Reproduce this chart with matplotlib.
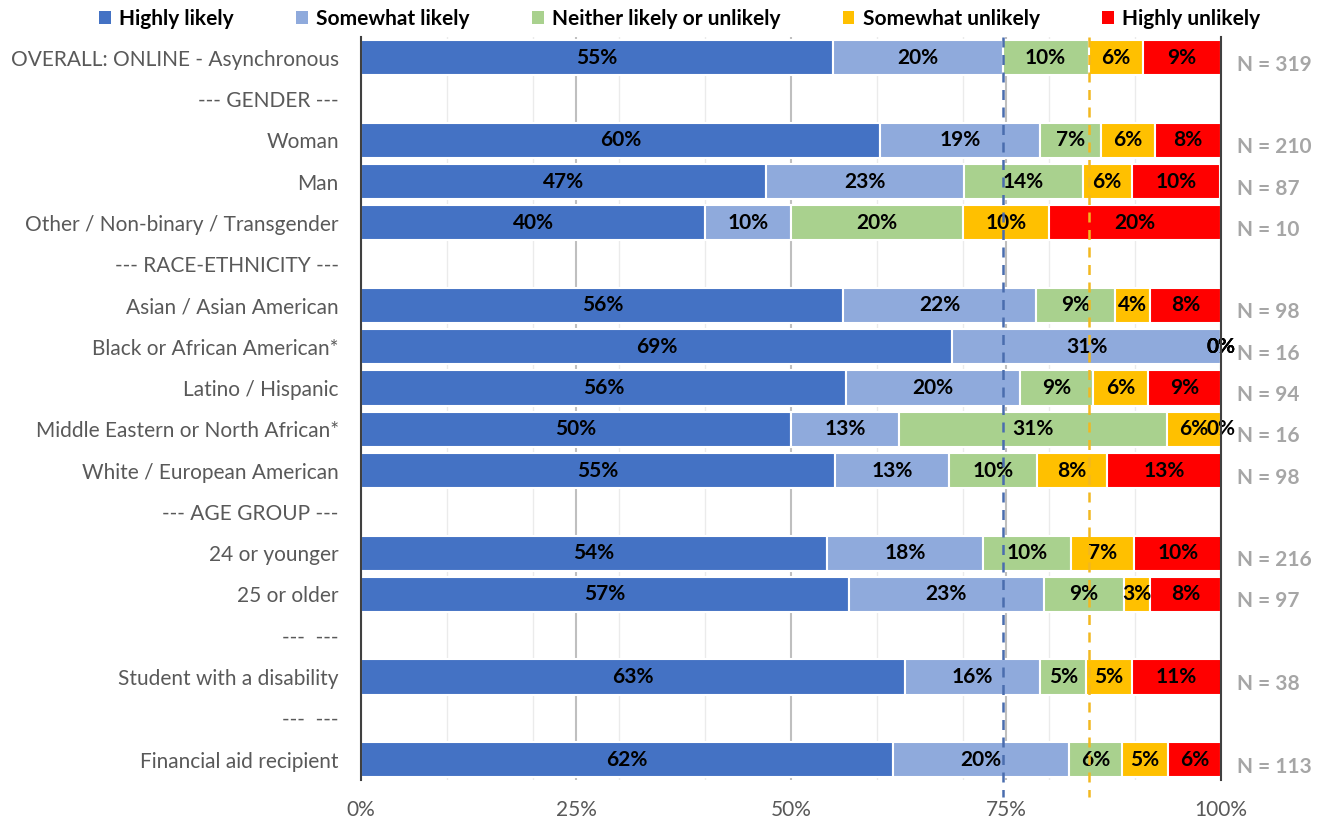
import numpy as np
import matplotlib.pyplot as plt
from matplotlib.patches import Patch

plt.rcParams['font.family'] = ['Lato', 'DejaVu Sans']

# rows top to bottom; section header rows have no data (None)
rows = ['OVERALL: ONLINE - Asynchronous', '--- GENDER ---', 'Woman', 'Man',
        'Other / Non-binary / Transgender', '--- RACE-ETHNICITY ---',
        'Asian / Asian American', 'Black or African American*', 'Latino / Hispanic',
        'Middle Eastern or North African*', 'White / European American',
        '--- AGE GROUP ---', '24 or younger', '25 or older', '---  ---',
        'Student with a disability', '---  ---', 'Financial aid recipient']

categories = ['Highly likely', 'Somewhat likely', 'Neither likely or unlikely',
              'Somewhat unlikely', 'Highly unlikely']
colors = ['#4472C4', '#8FAADC', '#A9D18E', '#FFC000', '#FF0000']

# percent per category, one list per row (None = header row)
values = [
    [54.9, 19.7, 10.0, 6.3, 9.1],
    None,
    [60.4, 18.6, 7.1, 6.2, 7.7],
    [47.1, 23.0, 13.8, 5.7, 10.3],
    [40.0, 10.0, 20.0, 10.0, 20.0],
    None,
    [56.1, 22.4, 9.2, 4.1, 8.2],
    [68.75, 31.25, 0.0, 0.0, 0.0],
    [56.4, 20.2, 8.5, 6.4, 8.5],
    [50.0, 12.5, 31.25, 6.25, 0.0],
    [55.1, 13.3, 10.2, 8.2, 13.3],
    None,
    [54.2, 18.1, 10.2, 7.4, 10.2],
    [56.7, 22.7, 9.3, 3.1, 8.2],
    None,
    [63.2, 15.8, 5.3, 5.3, 10.5],
    None,
    [61.9, 20.4, 6.2, 5.3, 6.2],
]
n_labels = ['N = 319', None, 'N = 210', 'N = 87', 'N = 10', None,
            'N = 98', 'N = 16', 'N = 94', 'N = 16', 'N = 98', None,
            'N = 216', 'N = 97', None, 'N = 38', None, 'N = 113']

fig = plt.figure(figsize=(13.25, 8.23), dpi=100)
ax = fig.add_axes([0.2725, 0.052, 0.649, 0.903])

y = np.arange(len(rows))
for i, vals in enumerate(values):
    if vals is None:
        continue
    left = 0
    for j, v in enumerate(vals):
        ax.barh(i, v, left=left, height=0.85, color=colors[j],
                edgecolor='white', linewidth=1.5, zorder=3)
        ax.text(left + v / 2, i, f'{int(np.floor(v + 0.5))}%', ha='center',
                va='center', fontsize=15, fontweight='bold', color='black', zorder=5)
        left += v
    ax.text(101.9, i + 0.17, n_labels[i], ha='left', va='center', fontsize=15,
            fontweight='bold', color='#A6A6A6', clip_on=False)

# reference lines from the overall row
ov = values[0]
for xv, c in [(ov[0] + ov[1], '#4A6DAE'), (ov[0] + ov[1] + ov[2], '#F2B820')]:
    ax.plot([xv, xv], [-0.5, 17.9], color=c, lw=1.8, ls=(0, (4, 3)),
            zorder=6, clip_on=False)

ax.set_xlim(0, 100)
ax.set_ylim(len(rows) - 0.5, -0.5)
ax.set_yticks(y)
ax.set_yticklabels(rows, fontsize=15, color='#595959')
ax.set_xticks([0, 25, 50, 75, 100])
ax.set_xticklabels(['0%', '25%', '50%', '75%', '100%'], fontsize=15, color='#595959')
ax.set_xticks(np.arange(10, 100, 10), minor=True)
ax.tick_params(axis='both', which='both', length=0)
ax.tick_params(axis='x', pad=14)
ax.tick_params(axis='y', pad=16)
ax.grid(axis='x', which='minor', color='#EBEBEB', lw=1, zorder=0)
ax.grid(axis='x', which='major', color='#BFBFBF', lw=1.5, zorder=1)
for s in ['top', 'bottom']:
    ax.spines[s].set_visible(False)
for s in ['left', 'right']:
    ax.spines[s].set_color('#404040')
    ax.spines[s].set_linewidth(1.5)
    ax.spines[s].set_zorder(7)

handles = [Patch(facecolor=c, label=l) for c, l in zip(colors, categories)]
fig.legend(handles=handles, loc='upper center', bbox_to_anchor=(0.513, 1.012),
           ncol=5, frameon=False, handlelength=0.55, handleheight=0.55,
           handletextpad=0.4, columnspacing=3.0,
           prop={'weight': 'bold', 'size': 15})

fig.savefig('out.png', dpi=100)
